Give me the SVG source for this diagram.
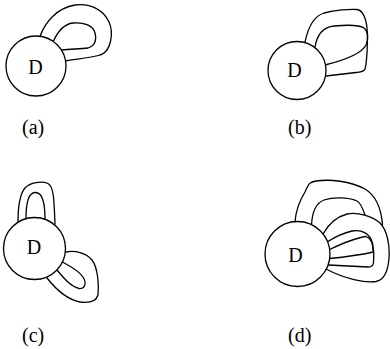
<svg xmlns="http://www.w3.org/2000/svg" width="390" height="349" viewBox="0 0 390 349">
<style>
.n{fill:#fff;stroke:#000;stroke-width:1.3}
.l{fill:none;stroke:#000;stroke-width:1.3;stroke-linejoin:round;stroke-linecap:round}
text{font-family:"Liberation Serif","Times New Roman",serif;font-size:20px;fill:#000}
.c{text-anchor:middle}
</style>
<rect width="390" height="349" fill="#fff"/>
<g id="connectors">
<path class="l" d="M40,36.5 C45,22 57,8 75,5 C92,3 104,11 109,22 C114,33 111,52 100,55 C90,58 76,59 65,61"/>
<path class="l" d="M53,42 C57,33 64,24 73,23 C83,22 93,25 95,33 C97,41 94,46 88,48 C80,49 70,49 62,50"/>
<path class="l" d="M305,42 C308,28 314,16 324,13 C335,10 350,9 357,9.5 C362,10 366,17 367,28 C368,40 367,62 365,69 C364,72 360,72 356,72.5 L326,76"/>
<path class="l" d="M315,47 C317,35 323,27 334,26 C345,25 358,24 364,28 C368,31 369,38 366,45 C362,53 345,60 325,65"/>
<path class="l" d="M18,222 C18,208 19,195 25,188 C30,182 42,181 48,183.5 C54,187 54,200 55,224"/>
<path class="l" d="M26,218 C26,205 28,193 35,192.5 C42,192 45,202 45,219"/>
<path class="l" d="M66,252 C75,250 86,253 92,260 C98,268 99,285 98,295 C96,302 88,303 80,302 C70,300 58,292 47,278"/>
<path class="l" d="M62.5,262 C70,266 79,271 83,277 C87,283 85,289 79,288.5 C72,287 66,281 57,270"/>
<path class="l" d="M295,221.5 C296,210 300,200 305,192 C308,186 308,182 316,181 C330,179 350,181 365,189 C375,195 381,205 382.5,225"/>
<path class="l" d="M311.5,225.5 C312,213 316,203 324,200 C333,197 348,197 357,201 C361,203 363,209 365,215"/>
<path class="l" d="M323,234 C328,225 336,217 347,214 C358,212 372,216 380,223 C387,230 390,245 389,258 C388,272 384,280 376,281.5 C365,283 345,279 326,269"/>
<path class="l" d="M327,242 C335,237 343,233 352,231 C362,229 370,234 372.5,243 C374,250 374,258 373.5,263 C373,266 371,267 368,267 L328.5,265"/>
<path class="l" d="M328.5,250 C341,244 354,238 366,236.5 C371,238 373,245 373.3,252 C360,255 345,257 329.5,258.5"/>
</g>
<g id="node-a"><circle class="n" cx="36" cy="66" r="30"/><text class="c" x="35.5" y="74">D</text></g>
<g id="node-b"><circle class="n" cx="297" cy="70.5" r="29"/><text class="c" x="294.5" y="77">D</text></g>
<g id="node-c"><circle class="n" cx="34.5" cy="248.5" r="31"/><text class="c" x="34" y="254">D</text></g>
<g id="node-d"><circle class="n" cx="297.5" cy="254" r="32.5"/><text class="c" x="295.5" y="262">D</text></g>
<g id="labels">
<text x="22" y="134">(a)</text>
<text x="288" y="134">(b)</text>
<text x="22" y="342">(c)</text>
<text x="288" y="342">(d)</text>
</g>
</svg>
